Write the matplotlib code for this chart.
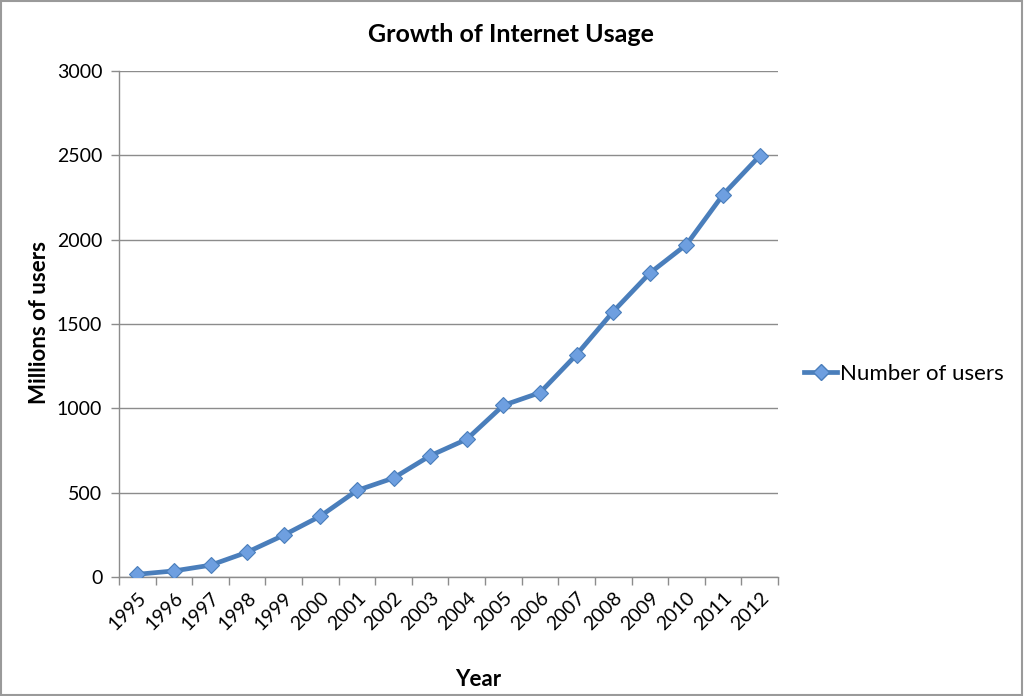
import matplotlib
matplotlib.use("Agg")
import matplotlib.pyplot as plt
from matplotlib.lines import Line2D
from matplotlib.patches import Rectangle

years = ["1995", "1996", "1997", "1998", "1999", "2000", "2001", "2002", "2003",
         "2004", "2005", "2006", "2007", "2008", "2009", "2010", "2011", "2012"]
users = [16, 36, 70, 147, 248, 361, 513, 587, 719, 817, 1018, 1093, 1319, 1574,
         1802, 1971, 2267, 2497]
y_ticks = [0, 500, 1000, 1500, 2000, 2500, 3000]

plt.rcParams['font.family'] = ['Lato', 'DejaVu Sans']

fig = plt.figure(figsize=(10.24, 6.96), dpi=100)
ax = fig.add_axes([119/1024, (696-577)/696, (778-119)/1024, (577-71)/696])

x = list(range(len(years)))
line_color = '#4A7EBB'
ax.plot(x, users, color=line_color, lw=3.4, marker='D', markersize=8.5,
        markerfacecolor='#6E9FE0', markeredgecolor='#4A7EBB', markeredgewidth=0.8,
        label='Number of users', zorder=3)

ax.set_xlim(-0.5, len(years) - 0.5)
ax.set_ylim(0, 3000)
ax.set_yticks(y_ticks)
ax.set_yticklabels([str(v) for v in y_ticks], fontsize=14)
ax.yaxis.grid(True, color='#8C8C8C', lw=1)
ax.set_axisbelow(True)

ax.set_xticks(x)
ax.set_xticklabels(years, rotation=45, ha='right', rotation_mode='anchor', fontsize=14)
ax.tick_params(axis='x', which='major', length=0, pad=9)
ax.set_xticks([i - 0.5 for i in range(len(years) + 1)], minor=True)
ax.tick_params(axis='x', which='minor', length=6, color='#8C8C8C', width=1, direction='out')
ax.tick_params(axis='y', length=6, color='#8C8C8C', width=1, direction='out', pad=6)

for s in ['top', 'right']:
    ax.spines[s].set_visible(False)
for s in ['left', 'bottom']:
    ax.spines[s].set_color('#8C8C8C')
    ax.spines[s].set_linewidth(1)

fig.text(511/1024, 1 - 35/696, 'Growth of Internet Usage', fontsize=18, fontweight='bold',
         ha='center', va='center')
fig.text(478/1024, 1 - 680/696, 'Year', fontsize=16, fontweight='bold',
         ha='center', va='center')
fig.text(40/1024, 1 - 323/696, 'Millions of users', fontsize=16, fontweight='bold',
         ha='center', va='center', rotation=90)

fig.legend(handles=[Line2D([0], [0], color=line_color, lw=3.4, marker='D', markersize=8.5,
                           markerfacecolor='#6E9FE0', markeredgecolor='#4A7EBB')],
           labels=['Number of users'], loc='center left',
           bbox_to_anchor=(784/1024, 1 - 374/696), frameon=False, fontsize=16,
           handlelength=1.5, handletextpad=0.1)

fig.patches.append(Rectangle((0.001, 0.001), 0.997, 0.997, transform=fig.transFigure,
                             fill=False, edgecolor='#9A9A9A', lw=1.5))

fig.savefig('out.png', dpi=100)
